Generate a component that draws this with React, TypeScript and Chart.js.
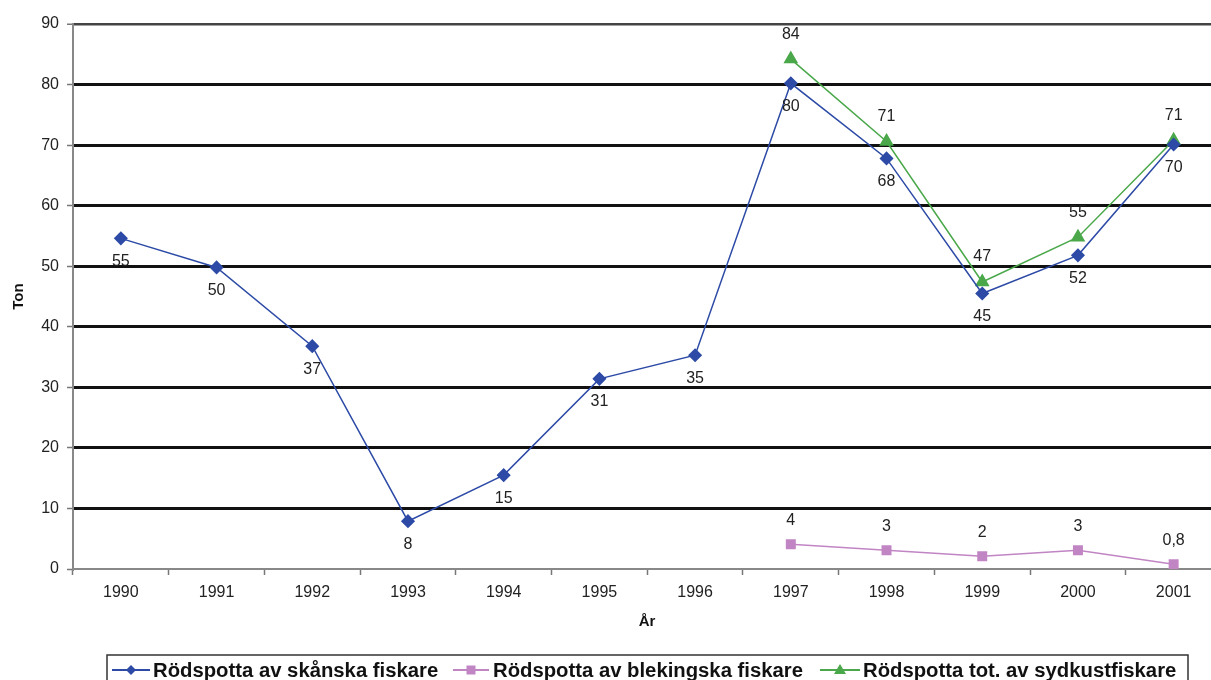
import React, { useEffect, useRef } from "react";
import { Chart, registerables } from "chart.js";

Chart.register(...registerables);

const years = ["1990", "1991", "1992", "1993", "1994", "1995", "1996", "1997", "1998", "1999", "2000", "2001"];
const skanska = [54.6, 49.8, 36.8, 7.9, 15.5, 31.4, 35.3, 80.2, 67.8, 45.5, 51.8, 70.1];
const skanskaLabels = ["55", "50", "37", "8", "15", "31", "35", "80", "68", "45", "52", "70"];
const blekingska = [null, null, null, null, null, null, null, 4.1, 3.1, 2.1, 3.1, 0.8];
const blekingskaLabels = ["", "", "", "", "", "", "", "4", "3", "2", "3", "0,8"];
const sydkust = [null, null, null, null, null, null, null, 84.2, 70.6, 47.4, 54.8, 70.8];
const sydkustLabels = ["", "", "", "", "", "", "", "84", "71", "47", "55", "71"];
const seriesNames = ["Rödspotta av skånska fiskare", "Rödspotta av blekingska fiskare", "Rödspotta tot. av sydkustfiskare"];
const yTitle = "Ton";
const xTitle = "År";

const BLUE = "#2D4BA6";
const PINK = "#C185C4";
const GREEN = "#4AA84A";
const FONT = "'Liberation Sans', Arial, sans-serif";

const labelsPlugin = {
  id: "customLabels",
  afterDraw(chart: any) {
    const ctx = chart.ctx;
    const ca = chart.chartArea;
    ctx.save();
    // data labels
    const labelSets = [skanskaLabels, blekingskaLabels, sydkustLabels];
    const offsets = [23, -24, -25];
    ctx.font = `16px ${FONT}`;
    ctx.fillStyle = "#222";
    ctx.textAlign = "center";
    ctx.textBaseline = "middle";
    labelSets.forEach((labs, i) => {
      const meta = chart.getDatasetMeta(i);
      meta.data.forEach((pt: any, j: number) => {
        const t = labs[j];
        if (!t || pt.skip) return;
        ctx.fillText(t, pt.x, pt.y + offsets[i]);
      });
    });
    // axis titles
    ctx.font = `bold 15px ${FONT}`;
    ctx.fillStyle = "#111";
    ctx.fillText(xTitle, 647, 622);
    ctx.save();
    ctx.translate(19, (ca.top + ca.bottom) / 2);
    ctx.rotate(-Math.PI / 2);
    ctx.fillText(yTitle, 0, 0);
    ctx.restore();
    // legend
    const boxL = 107, boxT = 655, boxR = 1188, boxB = 684;
    ctx.strokeStyle = "#333";
    ctx.lineWidth = 1.5;
    ctx.strokeRect(boxL, boxT, boxR - boxL, boxB - boxT);
    const items = [
      { x: 112, w: 38, tx: 153, color: BLUE, style: "diamond" },
      { x: 453, w: 36, tx: 493, color: PINK, style: "square" },
      { x: 820, w: 40, tx: 863, color: GREEN, style: "triangle" },
    ];
    const cy = 670;
    ctx.font = `bold 20.3px ${FONT}`;
    ctx.textAlign = "left";
    ctx.textBaseline = "middle";
    items.forEach((it, i) => {
      ctx.strokeStyle = it.color;
      ctx.lineWidth = 2;
      ctx.beginPath();
      ctx.moveTo(it.x, cy);
      ctx.lineTo(it.x + it.w, cy);
      ctx.stroke();
      const mx = it.x + it.w / 2;
      ctx.fillStyle = it.color;
      ctx.beginPath();
      if (it.style === "diamond") {
        ctx.moveTo(mx, cy - 5); ctx.lineTo(mx + 5, cy); ctx.lineTo(mx, cy + 5); ctx.lineTo(mx - 5, cy);
      } else if (it.style === "square") {
        ctx.rect(mx - 4.5, cy - 4.5, 9, 9);
      } else {
        ctx.moveTo(mx, cy - 6); ctx.lineTo(mx + 6, cy + 4); ctx.lineTo(mx - 6, cy + 4);
      }
      ctx.closePath();
      ctx.fill();
      ctx.fillStyle = "#111";
      ctx.fillText(seriesNames[i], it.tx, cy + 1);
    });
    ctx.restore();
  },
};

export default function App() {
  const ref = useRef<HTMLCanvasElement>(null);
  useEffect(() => {
    if (!ref.current) return;
    const chart = new Chart(ref.current, {
      type: "line",
      data: {
        labels: years,
        datasets: [
          {
            label: seriesNames[0], data: skanska, borderColor: BLUE, backgroundColor: BLUE,
            borderWidth: 1.5, pointStyle: "rectRot", pointRadius: 6, pointHoverRadius: 6, tension: 0,
          },
          {
            label: seriesNames[1], data: blekingska as any, borderColor: PINK, backgroundColor: PINK,
            borderWidth: 1.5, pointStyle: "rect", pointRadius: 6, pointHoverRadius: 6, tension: 0,
          },
          {
            label: seriesNames[2], data: sydkust as any, borderColor: GREEN, backgroundColor: GREEN,
            borderWidth: 1.5, pointStyle: "triangle", pointRadius: 7, pointHoverRadius: 7, tension: 0,
          },
        ],
      },
      options: {
        responsive: false,
        animation: false,
        devicePixelRatio: 1,
        layout: { padding: { top: 24, right: 0, left: 0, bottom: 0 } },
        plugins: { legend: { display: false }, tooltip: { enabled: false } },
        scales: {
          x: {
            offset: true,
            grid: { offset: true, drawOnChartArea: false, tickLength: 6, tickColor: "#777", tickWidth: 1.5 },
            border: { display: true, color: "#888", width: 2 },
            ticks: { color: "#222", font: { family: FONT, size: 16 }, padding: 8, maxRotation: 0 },
            afterFit: (s: any) => { s.height = 111; },
          },
          y: {
            min: 0, max: 90,
            ticks: { stepSize: 10, color: "#222", font: { family: FONT, size: 16 }, padding: 8 },
            grid: {
              tickLength: 6,
              tickColor: "#777",
              tickWidth: 1.5,
              color: (c: any) => (c.tick && c.tick.value === 0 ? "rgba(0,0,0,0)" : c.tick && c.tick.value === 90 ? "#444" : "#111"),
              lineWidth: (c: any) => (c.tick && c.tick.value === 90 ? 2.5 : 3),
            },
            border: { display: true, color: "#888", width: 2 },
            afterFit: (s: any) => { s.width = 73; },
          },
        },
      },
      plugins: [labelsPlugin],
    });
    return () => chart.destroy();
  }, []);
  return (
    <div style={{ position: "fixed", left: 0, top: 0, width: 1211, height: 680, overflow: "hidden", background: "#fff" }}>
      <canvas ref={ref} width={1230} height={680} style={{ display: "block" }} />
    </div>
  );
}
